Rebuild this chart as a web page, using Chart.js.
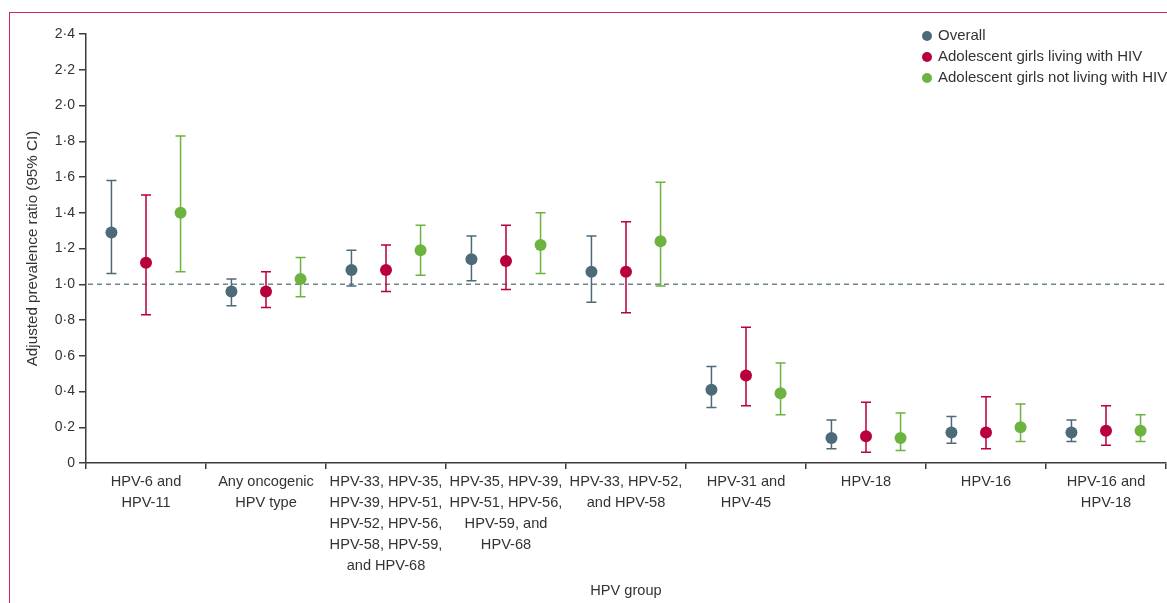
<!DOCTYPE html>
<html>
<head>
<meta charset="utf-8">
<script src="https://cdn.jsdelivr.net/npm/chart.js@4/dist/chart.umd.min.js"></script>
<style>
  html, body { margin: 0; padding: 0; background: #fff; overflow: hidden; }
  #frame { position: absolute; left: 9px; top: 12px; width: 2000px; height: 2000px;
           border-top: 1.5px solid #c8285a; border-left: 1.5px solid #c8285a; box-sizing: border-box; }
  #wrap { position: absolute; left: 0; top: 0; width: 1167px; height: 603px; }
</style>
</head>
<body>
<div id="frame"></div>
<div id="wrap"><canvas id="c" width="1167" height="603"></canvas></div>
<script>
const categories = [
  ['HPV-6 and', 'HPV-11'],
  ['Any oncogenic', 'HPV type'],
  ['HPV-33, HPV-35,', 'HPV-39, HPV-51,', 'HPV-52, HPV-56,', 'HPV-58, HPV-59,', 'and HPV-68'],
  ['HPV-35, HPV-39,', 'HPV-51, HPV-56,', 'HPV-59, and', 'HPV-68'],
  ['HPV-33, HPV-52,', 'and HPV-58'],
  ['HPV-31 and', 'HPV-45'],
  ['HPV-18'],
  ['HPV-16'],
  ['HPV-16 and', 'HPV-18']
];
const seriesNames = ['Overall', 'Adolescent girls living with HIV', 'Adolescent girls not living with HIV'];
const overall   = [1.29, 0.96, 1.08, 1.14, 1.07, 0.41, 0.14, 0.17, 0.17];
const overallLo = [1.06, 0.88, 0.99, 1.02, 0.90, 0.31, 0.08, 0.11, 0.12];
const overallHi = [1.58, 1.03, 1.19, 1.27, 1.27, 0.54, 0.24, 0.26, 0.24];
const hiv       = [1.12, 0.96, 1.08, 1.13, 1.07, 0.49, 0.15, 0.17, 0.18];
const hivLo     = [0.83, 0.87, 0.96, 0.97, 0.84, 0.32, 0.06, 0.08, 0.10];
const hivHi     = [1.50, 1.07, 1.22, 1.33, 1.35, 0.76, 0.34, 0.37, 0.32];
const noHiv     = [1.40, 1.03, 1.19, 1.22, 1.24, 0.39, 0.14, 0.20, 0.18];
const noHivLo   = [1.07, 0.93, 1.05, 1.06, 0.99, 0.27, 0.07, 0.12, 0.12];
const noHivHi   = [1.83, 1.15, 1.33, 1.40, 1.57, 0.56, 0.28, 0.33, 0.27];
const yTicks = [0, 0.2, 0.4, 0.6, 0.8, 1.0, 1.2, 1.4, 1.6, 1.8, 2.0, 2.2, 2.4];
const referenceValue = 1.0;

const colors = ['#4d6a78', '#b8003a', '#6cb33f'];
const offsets = [-0.288, 0, 0.288];
const FONT = '"Liberation Sans", Arial, sans-serif';
const TEXT = '#333333';
const AXIS = '#3d3d3d';

const series = [
  {v: overall, lo: overallLo, hi: overallHi},
  {v: hiv, lo: hivLo, hi: hivHi},
  {v: noHiv, lo: noHivLo, hi: noHivHi}
];

const datasets = series.map((s, k) => ({
  label: seriesNames[k],
  type: 'scatter',
  xAxisID: 'xl',
  yAxisID: 'y',
  data: s.v.map((v, i) => ({x: i + offsets[k], y: v, lo: s.lo[i], hi: s.hi[i]})),
  pointRadius: 6,
  pointHoverRadius: 6,
  pointBackgroundColor: colors[k],
  pointBorderWidth: 0,
  borderColor: colors[k],
  showLine: false,
  clip: false
}));

const extras = {
  id: 'extras',
  beforeDatasetsDraw(chart) {
    const ctx = chart.ctx;
    const xs = chart.scales.xl, ys = chart.scales.y;
    const area = chart.chartArea;
    ctx.save();
    ctx.strokeStyle = '#6f8590';
    ctx.lineWidth = 1.3;
    ctx.setLineDash([5, 4]);
    const yr = ys.getPixelForValue(referenceValue);
    ctx.beginPath();
    ctx.moveTo(area.left + 2, yr);
    ctx.lineTo(area.right, yr);
    ctx.stroke();
    ctx.setLineDash([]);
    chart.data.datasets.forEach((ds, k) => {
      ctx.strokeStyle = colors[k];
      ctx.lineWidth = 1.5;
      ds.data.forEach(p => {
        const x = xs.getPixelForValue(p.x);
        const yl = ys.getPixelForValue(p.lo);
        const yh = ys.getPixelForValue(p.hi);
        ctx.beginPath();
        ctx.moveTo(x, yl); ctx.lineTo(x, yh);
        ctx.moveTo(x - 5, yl); ctx.lineTo(x + 5, yl);
        ctx.moveTo(x - 5, yh); ctx.lineTo(x + 5, yh);
        ctx.stroke();
      });
    });
    ctx.restore();
  },
  afterDraw(chart) {
    const ctx = chart.ctx;
    ctx.save();
    ctx.font = '15px ' + FONT;
    ctx.textBaseline = 'middle';
    ctx.textAlign = 'left';
    seriesNames.forEach((name, k) => {
      const y = 36 + k * 21;
      ctx.fillStyle = colors[k];
      ctx.beginPath();
      ctx.arc(927, y, 5, 0, Math.PI * 2);
      ctx.fill();
      ctx.fillStyle = TEXT;
      ctx.fillText(name, 938, y);
    });
    ctx.restore();
  }
};

new Chart(document.getElementById('c'), {
  type: 'scatter',
  data: { labels: categories, datasets },
  options: {
    responsive: false,
    animation: false,
    devicePixelRatio: 1,
    layout: { autoPadding: false, padding: { top: 34, right: 1, bottom: 0, left: 0 } },
    plugins: { legend: { display: false }, tooltip: { enabled: false } },
    scales: {
      x: {
        type: 'category',
        position: 'bottom',
        labels: categories,
        offset: true,
        grid: { offset: true, drawOnChartArea: false, drawTicks: true, tickLength: 6, color: AXIS, lineWidth: 1.5 },
        border: { color: AXIS, width: 1.5 },
        ticks: { font: { family: FONT, size: 14.6, lineHeight: 1.44 }, color: TEXT, padding: 2, maxRotation: 0, autoSkip: false },
        title: { display: true, text: 'HPV group', font: { family: FONT, size: 14.6 }, color: TEXT, padding: { top: 0, bottom: 3 } },
        afterFit(s) { s.height = 140; s.paddingLeft = 0; s.paddingRight = 0; }
      },
      xl: { type: 'linear', display: false, min: -0.5, max: 8.5 },
      y: {
        type: 'linear',
        position: 'left',
        min: 0, max: 2.4,
        afterBuildTicks(s) { s.ticks = yTicks.map(v => ({value: v})); },
        ticks: {
          font: { family: FONT, size: 14 }, color: TEXT, padding: 4,
          callback: v => v === 0 ? '0' : (Math.round(v * 10) / 10).toFixed(1).replace('.', '\u00B7')
        },
        grid: { drawOnChartArea: false, drawTicks: true, tickLength: 7, color: AXIS, lineWidth: 1.5 },
        border: { color: AXIS, width: 1.5 },
        title: { display: true, text: 'Adjusted prevalence ratio (95% CI)', font: { family: FONT, size: 15.2 }, color: TEXT, padding: { top: 24, bottom: 0 } },
        afterFit(s) { s.width = 86; }
      }
    }
  },
  plugins: [extras]
});
</script>
</body>
</html>
